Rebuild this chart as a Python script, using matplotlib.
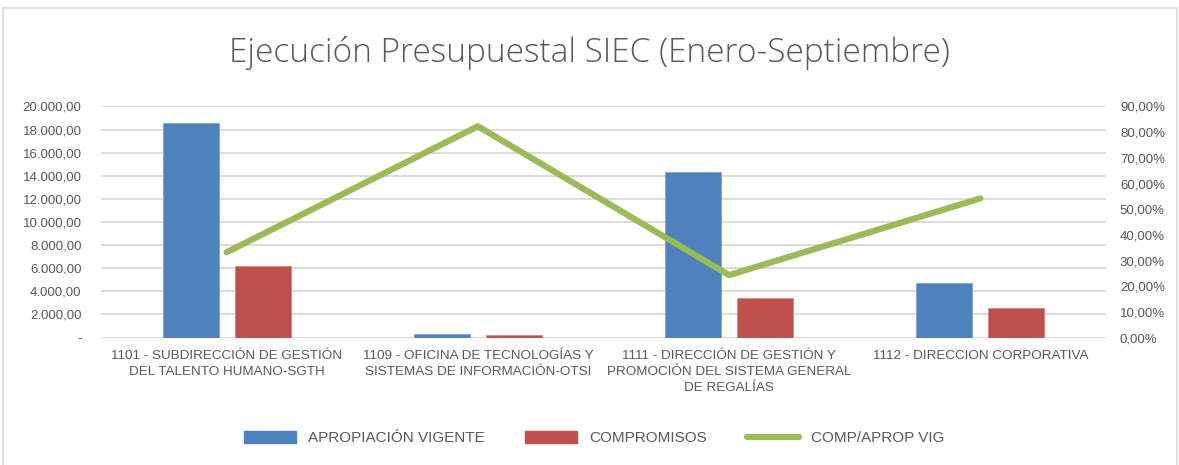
import matplotlib.pyplot as plt
from matplotlib.lines import Line2D
from matplotlib.patches import Patch, Rectangle
from matplotlib.ticker import FuncFormatter
import numpy as np

categories = ['1101 - SUBDIRECCIÓN DE GESTIÓN\nDEL TALENTO HUMANO-SGTH',
              '1109 - OFICINA DE TECNOLOGÍAS Y\nSISTEMAS DE INFORMACIÓN-OTSI',
              '1111 - DIRECCIÓN DE GESTIÓN Y\nPROMOCIÓN DEL SISTEMA GENERAL\nDE REGALÍAS',
              '1112 - DIRECCION CORPORATIVA']
apropiacion = [18550, 300, 14300, 4700]
compromisos = [6200, 250, 3450, 2520]
comp_aprop = [0.332, 0.823, 0.243, 0.542]

blue = '#4f81bd'
red = '#c0504d'
green = '#9bbb59'
gray = '#595959'

plt.rcParams['font.family'] = ['Liberation Sans Narrow', 'Liberation Sans', 'DejaVu Sans']

W, H = 1179, 465
fig = plt.figure(figsize=(W / 100, H / 100), dpi=100)
ax = fig.add_axes([101 / W, 1 - 337.5 / H, (1106 - 101) / W, (337.5 - 106.5) / H])

x = np.arange(len(categories))
bw = 0.223
ax.bar(x - 0.143, apropiacion, bw, color=blue, edgecolor='#7ea3d3', linewidth=0.6, zorder=2)
ax.bar(x + 0.143, compromisos, bw, color=red, edgecolor='#d98583', linewidth=0.6, zorder=2)

ax.set_xlim(-0.5, 3.5)
ax.set_ylim(0, 20000)
ax.set_yticks(np.arange(0, 20001, 2000))


def miles(v, pos):
    if v == 0:
        return '-'
    return f'{v:,.2f}'.replace(',', 'X').replace('.', ',').replace('X', '.')


ax.yaxis.set_major_formatter(FuncFormatter(miles))
ax.grid(axis='y', color='#d9d9d9', linewidth=1.3, zorder=0)
ax.set_axisbelow(True)
for s in ax.spines.values():
    s.set_visible(False)
ax.tick_params(axis='y', length=0, labelsize=9.5, labelcolor=gray, pad=14)
ax.tick_params(axis='x', length=0, labelsize=9.7, labelcolor=gray, pad=9)
ax.set_xticks(x)
ax.set_xticklabels(categories, linespacing=1.45, va='top')

ax2 = ax.twinx()
ax2.plot(x, comp_aprop, color=green, linewidth=4.5, solid_capstyle='round', zorder=3)
ax2.set_ylim(0, 0.9)
ax2.set_yticks(np.arange(0, 0.91, 0.1))
ax2.yaxis.set_major_formatter(FuncFormatter(lambda v, p: f'{v * 100:.2f}%'.replace('.', ',')))
ax2.tick_params(axis='y', length=0, labelsize=9.5, labelcolor=gray, pad=10)
for s in ax2.spines.values():
    s.set_visible(False)

fig.text(0.5, 1 - 53 / H, 'Ejecución Presupuestal SIEC (Enero-Septiembre)',
         ha='center', va='center', fontsize=24, color=gray,
         family=['Open Sans', 'DejaVu Sans'], fontweight='light')

handles = [Patch(color=blue), Patch(color=red),
           Line2D([0], [0], color=green, linewidth=4.5, solid_capstyle='round')]
labels = ['APROPIACIÓN VIGENTE', 'COMPROMISOS', 'COMP/APROP VIG']
leg = fig.legend(handles, labels, loc='center', bbox_to_anchor=(0.504, 1 - 438 / H), ncol=3,
                 frameon=False, fontsize=11, handlelength=3.4, handleheight=0.9,
                 columnspacing=2.6, handletextpad=0.8)
for t in leg.get_texts():
    t.set_color(gray)

fig.patches.append(Rectangle((3 / W, -0.05), (1177 - 3) / W, 1.05 - 8 / H,
                             transform=fig.transFigure, fill=False,
                             edgecolor='#d9d9d9', linewidth=1.2))

fig.savefig('out.png', dpi=100)
